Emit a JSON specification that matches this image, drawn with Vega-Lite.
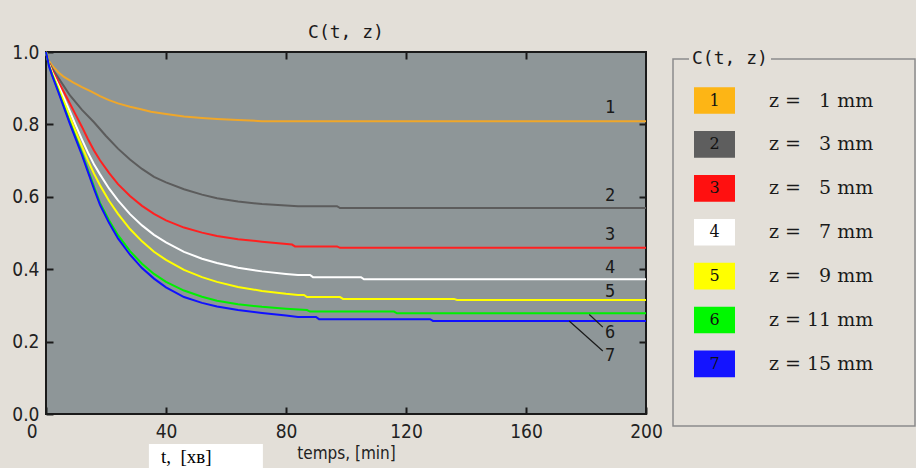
{
  "$schema": "https://vega.github.io/schema/vega-lite/v6.json",
  "background": "#E3DFD8",
  "padding": {"left": 10, "top": 23, "right": 0, "bottom": 0},
  "spacing": 8,
  "datasets": {
    "curves": [
      {"s":"1","t":0,"c":1},{"s":"1","t":1,"c":0.975},{"s":"1","t":2,"c":0.963},{"s":"1","t":4,"c":0.945},{"s":"1","t":6,"c":0.931},{"s":"1","t":9,"c":0.916},{"s":"1","t":12,"c":0.903},{"s":"1","t":15,"c":0.891},{"s":"1","t":18,"c":0.878},{"s":"1","t":21,"c":0.867},{"s":"1","t":24,"c":0.858},{"s":"1","t":28,"c":0.849},{"s":"1","t":32,"c":0.841},{"s":"1","t":35,"c":0.835},{"s":"1","t":40,"c":0.829},{"s":"1","t":46,"c":0.822},{"s":"1","t":52,"c":0.818},{"s":"1","t":57,"c":0.815},{"s":"1","t":64,"c":0.812},{"s":"1","t":72,"c":0.809},{"s":"1","t":200,"c":0.809},
      {"s":"2","t":0,"c":1},{"s":"2","t":1,"c":0.97},{"s":"2","t":2,"c":0.955},{"s":"2","t":4,"c":0.93},{"s":"2","t":6,"c":0.905},{"s":"2","t":8,"c":0.88},{"s":"2","t":12,"c":0.84},{"s":"2","t":16,"c":0.806},{"s":"2","t":20,"c":0.768},{"s":"2","t":24,"c":0.733},{"s":"2","t":28,"c":0.703},{"s":"2","t":32,"c":0.677},{"s":"2","t":36,"c":0.655},{"s":"2","t":40,"c":0.64},{"s":"2","t":46,"c":0.621},{"s":"2","t":52,"c":0.606},{"s":"2","t":57,"c":0.596},{"s":"2","t":64,"c":0.587},{"s":"2","t":72,"c":0.58},{"s":"2","t":80,"c":0.576},{"s":"2","t":84,"c":0.574},{"s":"2","t":97,"c":0.574},{"s":"2","t":98,"c":0.569},{"s":"2","t":200,"c":0.569},
      {"s":"3","t":0,"c":1},{"s":"3","t":1,"c":0.968},{"s":"3","t":2,"c":0.95},{"s":"3","t":4,"c":0.92},{"s":"3","t":6,"c":0.889},{"s":"3","t":8,"c":0.857},{"s":"3","t":10,"c":0.825},{"s":"3","t":12,"c":0.793},{"s":"3","t":14,"c":0.759},{"s":"3","t":16,"c":0.728},{"s":"3","t":18,"c":0.701},{"s":"3","t":21,"c":0.666},{"s":"3","t":24,"c":0.635},{"s":"3","t":28,"c":0.602},{"s":"3","t":32,"c":0.575},{"s":"3","t":36,"c":0.553},{"s":"3","t":40,"c":0.535},{"s":"3","t":46,"c":0.515},{"s":"3","t":52,"c":0.501},{"s":"3","t":57,"c":0.492},{"s":"3","t":64,"c":0.483},{"s":"3","t":72,"c":0.476},{"s":"3","t":82,"c":0.468},{"s":"3","t":83,"c":0.463},{"s":"3","t":97,"c":0.463},{"s":"3","t":98,"c":0.459},{"s":"3","t":200,"c":0.459},
      {"s":"4","t":0,"c":1},{"s":"4","t":1,"c":0.966},{"s":"4","t":2,"c":0.945},{"s":"4","t":4,"c":0.91},{"s":"4","t":6,"c":0.873},{"s":"4","t":8,"c":0.835},{"s":"4","t":10,"c":0.796},{"s":"4","t":12,"c":0.758},{"s":"4","t":14,"c":0.722},{"s":"4","t":16,"c":0.69},{"s":"4","t":18,"c":0.662},{"s":"4","t":21,"c":0.623},{"s":"4","t":24,"c":0.59},{"s":"4","t":28,"c":0.552},{"s":"4","t":32,"c":0.521},{"s":"4","t":36,"c":0.495},{"s":"4","t":40,"c":0.474},{"s":"4","t":46,"c":0.448},{"s":"4","t":52,"c":0.429},{"s":"4","t":57,"c":0.417},{"s":"4","t":64,"c":0.404},{"s":"4","t":72,"c":0.394},{"s":"4","t":80,"c":0.387},{"s":"4","t":84,"c":0.384},{"s":"4","t":88,"c":0.384},{"s":"4","t":89,"c":0.378},{"s":"4","t":105,"c":0.378},{"s":"4","t":106,"c":0.372},{"s":"4","t":200,"c":0.372},
      {"s":"5","t":0,"c":1},{"s":"5","t":1,"c":0.964},{"s":"5","t":2,"c":0.942},{"s":"5","t":4,"c":0.903},{"s":"5","t":6,"c":0.862},{"s":"5","t":8,"c":0.82},{"s":"5","t":10,"c":0.779},{"s":"5","t":12,"c":0.739},{"s":"5","t":14,"c":0.7},{"s":"5","t":16,"c":0.664},{"s":"5","t":18,"c":0.632},{"s":"5","t":21,"c":0.589},{"s":"5","t":24,"c":0.553},{"s":"5","t":28,"c":0.511},{"s":"5","t":32,"c":0.477},{"s":"5","t":36,"c":0.448},{"s":"5","t":40,"c":0.426},{"s":"5","t":46,"c":0.398},{"s":"5","t":52,"c":0.378},{"s":"5","t":57,"c":0.365},{"s":"5","t":64,"c":0.351},{"s":"5","t":72,"c":0.34},{"s":"5","t":80,"c":0.332},{"s":"5","t":84,"c":0.329},{"s":"5","t":86,"c":0.329},{"s":"5","t":87,"c":0.323},{"s":"5","t":98,"c":0.323},{"s":"5","t":99,"c":0.318},{"s":"5","t":136,"c":0.318},{"s":"5","t":137,"c":0.315},{"s":"5","t":200,"c":0.315},
      {"s":"6","t":0,"c":1},{"s":"6","t":1,"c":0.962},{"s":"6","t":2,"c":0.938},{"s":"6","t":4,"c":0.895},{"s":"6","t":6,"c":0.85},{"s":"6","t":8,"c":0.805},{"s":"6","t":10,"c":0.762},{"s":"6","t":12,"c":0.72},{"s":"6","t":14,"c":0.674},{"s":"6","t":16,"c":0.628},{"s":"6","t":18,"c":0.583},{"s":"6","t":21,"c":0.535},{"s":"6","t":24,"c":0.494},{"s":"6","t":28,"c":0.45},{"s":"6","t":32,"c":0.415},{"s":"6","t":36,"c":0.387},{"s":"6","t":40,"c":0.365},{"s":"6","t":46,"c":0.341},{"s":"6","t":52,"c":0.324},{"s":"6","t":57,"c":0.313},{"s":"6","t":64,"c":0.303},{"s":"6","t":72,"c":0.296},{"s":"6","t":80,"c":0.291},{"s":"6","t":87,"c":0.287},{"s":"6","t":88,"c":0.283},{"s":"6","t":116,"c":0.283},{"s":"6","t":117,"c":0.278},{"s":"6","t":200,"c":0.278},
      {"s":"7","t":0,"c":1},{"s":"7","t":1,"c":0.961},{"s":"7","t":2,"c":0.936},{"s":"7","t":4,"c":0.892},{"s":"7","t":6,"c":0.846},{"s":"7","t":8,"c":0.801},{"s":"7","t":10,"c":0.758},{"s":"7","t":12,"c":0.715},{"s":"7","t":14,"c":0.668},{"s":"7","t":16,"c":0.622},{"s":"7","t":18,"c":0.578},{"s":"7","t":21,"c":0.528},{"s":"7","t":24,"c":0.485},{"s":"7","t":28,"c":0.44},{"s":"7","t":32,"c":0.403},{"s":"7","t":36,"c":0.374},{"s":"7","t":40,"c":0.35},{"s":"7","t":46,"c":0.323},{"s":"7","t":52,"c":0.307},{"s":"7","t":57,"c":0.297},{"s":"7","t":64,"c":0.287},{"s":"7","t":72,"c":0.279},{"s":"7","t":80,"c":0.272},{"s":"7","t":84,"c":0.268},{"s":"7","t":90,"c":0.268},{"s":"7","t":91,"c":0.262},{"s":"7","t":128,"c":0.262},{"s":"7","t":129,"c":0.257},{"s":"7","t":200,"c":0.257}
    ],
    "tags": [
      {"s":"1","t":188,"c":0.846},{"s":"2","t":188,"c":0.602},{"s":"3","t":188,"c":0.494},{"s":"4","t":188,"c":0.404},{"s":"5","t":188,"c":0.338},{"s":"6","t":188,"c":0.224},{"s":"7","t":188,"c":0.16}
    ],
    "leaders": [
      {"s":"6","t":181.1,"c":0.275,"t2":185.6,"c2":0.24},
      {"s":"7","t":174.4,"c":0.257,"t2":185.6,"c2":0.174}
    ],
    "note": [
      {"t":34.3,"t2":72.3,"c":-0.083,"c2":-0.17,"label":"t,\u00a0 [хв]"}
    ],
    "legend": [
      {"s":"1","z":1},{"s":"2","z":3},{"s":"3","z":5},{"s":"4","z":7},{"s":"5","z":9},{"s":"6","z":11},{"s":"7","z":15}
    ],
    "empty": []
  },
  "resolve": {"scale": {"color": "independent", "shape": "independent", "x": "independent", "y": "independent"}, "legend": {"color": "independent", "shape": "independent"}},
  "hconcat": [
    {
      "width": 600,
      "height": 362,
      "title": {"text": "C(t, z)", "font": "DejaVu Sans Mono", "fontSize": 18, "fontWeight": "normal", "color": "#1a1a1a", "anchor": "middle", "frame": "group", "offset": 1},
      "view": {"fill": "#8E9698", "stroke": "#1a1a1a", "strokeWidth": 2},
      "resolve": {"axis": {"x": "independent", "y": "independent"}},
      "layer": [
        {
          "data": {"name": "curves"},
          "mark": {"type": "line", "strokeWidth": 2},
          "encoding": {
            "x": {"field": "t", "type": "quantitative", "scale": {"domain": [0, 200], "nice": false, "zero": false},
              "axis": {"orient": "bottom", "values": [0, 40, 80, 120, 160, 200], "title": "temps, [min]", "titleFont": "DejaVu Sans Condensed", "titleFontSize": 17, "titleFontWeight": "normal", "titleColor": "#222222", "titlePadding": 4,
                "labelFont": "DejaVu Sans Condensed", "labelFontSize": 19, "labelColor": "#222222", "labelPadding": 15, "labelFlush": false, "labelOverlap": false,
                "labelAlign": {"condition": {"test": "datum.value === 0", "value": "right"}, "value": "center"},
                "labelOffset": {"condition": {"test": "datum.value === 0", "value": -9}, "value": 0},
                "tickSize": -7, "tickWidth": 2, "tickColor": "#1a1a1a", "domain": false, "grid": false}},
            "y": {"field": "c", "type": "quantitative", "scale": {"domain": [0, 1], "nice": false},
              "axis": {"orient": "left", "values": [0, 0.2, 0.4, 0.6, 0.8, 1], "format": ".1f", "title": null,
                "labelFont": "DejaVu Sans Condensed", "labelFontSize": 19, "labelColor": "#222222", "labelPadding": 14, "labelFlush": false, "labelOverlap": false,
                "tickSize": -7, "tickWidth": 2, "tickColor": "#1a1a1a", "domain": false, "grid": false}},
            "color": {"field": "s", "type": "nominal", "scale": {"domain": ["1","2","3","4","5","6","7"], "range": ["#EFA72A", "#5C5C5C", "#FF2020", "#FFFFFF", "#FFFF00", "#00F000", "#1010FF"]}, "legend": null}
          }
        },
        {
          "data": {"name": "tags"},
          "mark": {"type": "text", "font": "DejaVu Sans Mono", "fontSize": 17, "color": "#1a1a1a", "align": "center", "baseline": "middle"},
          "encoding": {
            "x": {"field": "t", "type": "quantitative", "axis": {"orient": "top", "values": [40, 80, 120, 160], "labels": false, "title": null, "tickSize": -7, "tickWidth": 2, "tickColor": "#1a1a1a", "domain": false, "grid": false}},
            "y": {"field": "c", "type": "quantitative", "axis": {"orient": "right", "values": [0.2, 0.4, 0.6, 0.8], "labels": false, "title": null, "tickSize": -7, "tickWidth": 2, "tickColor": "#1a1a1a", "domain": false, "grid": false}},
            "text": {"field": "s", "type": "nominal"}
          }
        },
        {
          "data": {"name": "leaders"},
          "mark": {"type": "rule", "color": "#1a1a1a", "strokeWidth": 1.2},
          "encoding": {
            "x": {"field": "t", "type": "quantitative", "axis": null},
            "y": {"field": "c", "type": "quantitative", "axis": null},
            "x2": {"field": "t2"},
            "y2": {"field": "c2"}
          }
        },
        {
          "data": {"name": "note"},
          "mark": {"type": "rect", "fill": "#FFFFFF", "clip": false},
          "encoding": {
            "x": {"field": "t", "type": "quantitative", "axis": null},
            "x2": {"field": "t2"},
            "y": {"field": "c", "type": "quantitative", "axis": null},
            "y2": {"field": "c2"}
          }
        },
        {
          "data": {"name": "note"},
          "mark": {"type": "text", "font": "Liberation Serif", "fontSize": 19, "color": "#000000", "align": "left", "baseline": "middle", "dx": 12, "dy": 13, "clip": false},
          "encoding": {
            "x": {"field": "t", "type": "quantitative", "axis": null},
            "y": {"field": "c", "type": "quantitative", "axis": null},
            "text": {"field": "label", "type": "nominal"}
          }
        }
      ]
    },
    {
      "spacing": -4,
      "resolve": {"scale": {"color": "independent", "shape": "independent"}, "legend": {"color": "independent", "shape": "independent"}},
      "vconcat": [
        {
          "width": 242,
          "height": 1,
          "view": {"fill": null, "stroke": null},
          "data": {"name": "empty"},
          "mark": {"type": "point", "opacity": 0},
          "encoding": {}
        },
        {
          "width": 242,
          "height": 367,
          "view": {"fill": null, "stroke": "#8C8C8C", "strokeWidth": 1.5, "strokeDash": [16, 82, 3000]},
          "title": {"text": "C(t, z)", "font": "DejaVu Sans Mono", "fontSize": 18, "fontWeight": "normal", "color": "#1a1a1a", "anchor": "start", "frame": "group", "offset": 0, "baseline": "middle", "dx": 19, "dy": 18},
          "data": {"name": "legend"},
          "mark": {"type": "point", "filled": true, "opacity": 0},
          "encoding": {
            "color": {"field": "z", "type": "ordinal", "scale": {"range": ["#FDB515", "#5E5E5E", "#FF1010", "#FFFFFF", "#FFFF00", "#00F800", "#1414FF"]},
              "legend": {"title": null, "orient": "none", "legendX": 21, "legendY": 21, "direction": "vertical", "padding": 0,
                "symbolType": "M-1,-0.65H1V0.65H-1Z", "symbolSize": 1681, "symbolOpacity": 1, "symbolStrokeWidth": 0,
                "labelFont": "DejaVu Serif", "labelFontSize": 19, "labelColor": "#1a1a1a", "labelOffset": 34, "rowPadding": 9.9,
                "labelExpr": "'z = ' + (datum.value < 10 ? '\u00a0 ' : '') + datum.value + ' mm'"}},
            "shape": {"field": "s", "type": "nominal", "scale": {"range": ["M-1,-0.65H1V0.65H-1Z", "M-1,-0.65H1V0.65H-1Z", "M-1,-0.65H1V0.65H-1Z", "M-1,-0.65H1V0.65H-1Z", "M-1,-0.65H1V0.65H-1Z", "M-1,-0.65H1V0.65H-1Z", "M-1,-0.65H1V0.65H-1Z"]},
              "legend": {"title": null, "orient": "none", "legendX": 21, "legendY": 21, "direction": "vertical", "padding": 0,
                "symbolSize": 1681, "symbolOpacity": 0, "symbolStrokeWidth": 0,
                "labelFont": "DejaVu Serif", "labelFontSize": 16, "labelColor": "#111111", "labelAlign": "center", "labelOffset": -20.5, "rowPadding": 9.9}}
          }
        }
      ]
    }
  ],
  "config": {"font": "DejaVu Sans Condensed", "view": {"stroke": null}}
}
